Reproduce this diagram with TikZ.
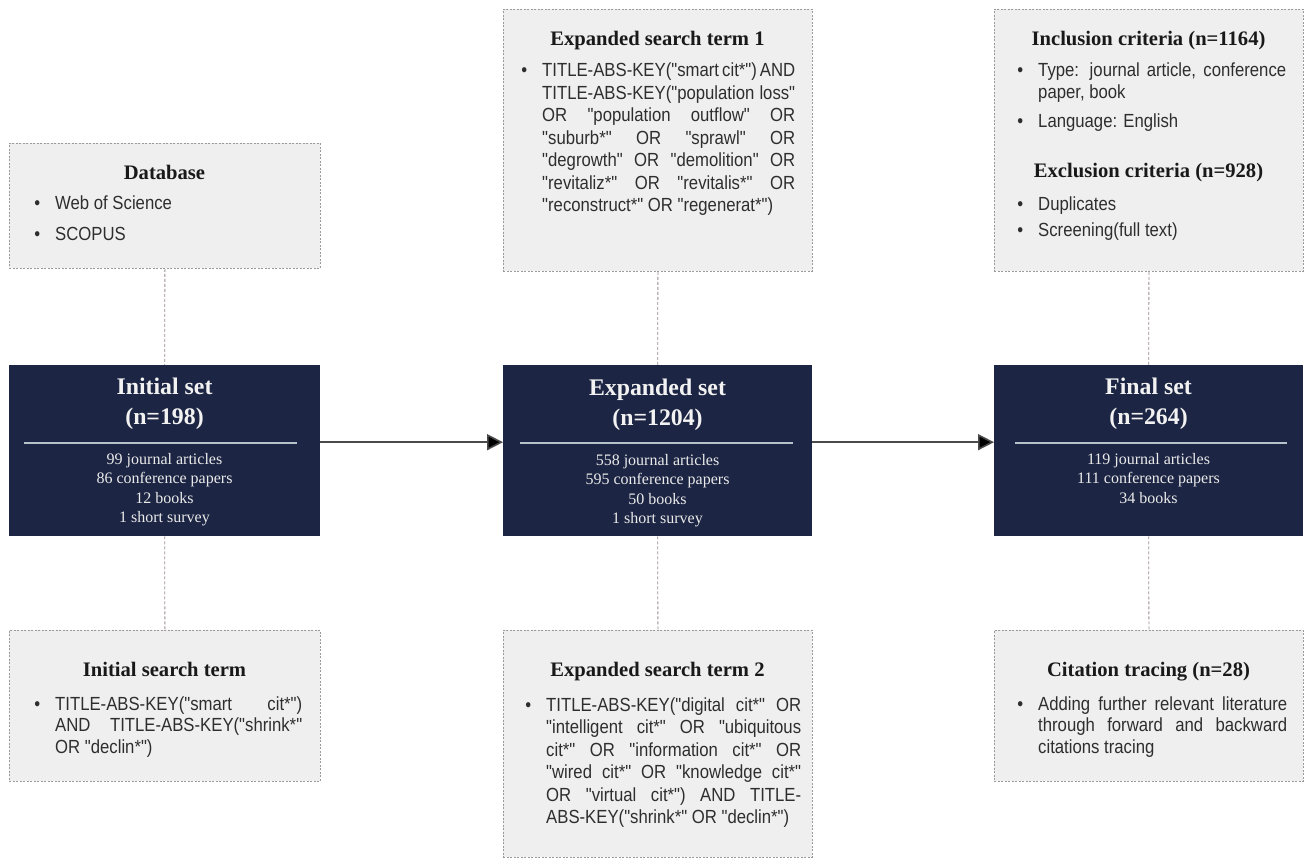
\documentclass[tikz,border=0pt]{standalone}
\usepackage{fontspec}
\setmainfont{Liberation Serif}
\newfontfamily\bodyfont[FakeStretch=0.88]{Liberation Sans}
\usetikzlibrary{arrows.meta,calc}
\definecolor{navy}{HTML}{1C2543}
\definecolor{boxgray}{HTML}{EFEFEF}
\definecolor{bordergray}{HTML}{9A9A9A}
\definecolor{conngray}{HTML}{9A8C8C}
\definecolor{bodygray}{HTML}{2E2E2E}
\definecolor{rulegray}{HTML}{B4C3C9}
\definecolor{arrowgray}{HTML}{4A4A4A}
\newlength\tw
\newcommand\cstack[2]{\vtop{\baselineskip=#1\relax\halign{\hfil##\hfil\cr#2\crcr}}}
\newcommand\glist[3]{\vtop{\bodyfont\fontsize{19}{#2}\selectfont\setlength\tw{#1}#3}}
\newcommand\JL[1]{\hbox to\tw{#1}}
\newcommand\LL[1]{\hbox to\tw{#1\hfil}}
\newcommand\BJ[1]{\hbox to\tw{\llap{\textbullet\hskip15pt}#1}}
\newcommand\BL[1]{\hbox to\tw{\llap{\textbullet\hskip15pt}#1\hfil}}
\tikzset{
  gbox/.style={draw=bordergray, dash pattern=on 2pt off 1.5pt, line width=0.8pt, fill=boxgray, inner sep=0, anchor=north west},
  dbox/.style={fill=navy, inner sep=0, anchor=north west},
  gtitle/.style={anchor=base, inner sep=0, font=\fontsize{20.6}{24}\selectfont\bfseries, text=black!90},
  dtitle/.style={anchor=base, inner sep=0, font=\fontsize{23.8}{30}\selectfont\bfseries, text=white!95!black},
  dbody/.style={anchor=base, inner sep=0, font=\fontsize{16}{19.5}\selectfont, text=white!92!black},
  glistn/.style={anchor=base west, inner sep=0, text=bodygray},
  vconn/.style={draw=conngray, line width=0.8pt, dash pattern=on 3pt off 2pt},
  harrow/.style={draw=arrowgray, line width=1.6pt, -{Triangle[length=16pt,width=16pt,fill=black]}},
  drule/.style={draw=rulegray, line width=1.8pt}
}
\begin{document}
\begin{tikzpicture}[x=1pt,y=-1pt]
\useasboundingbox (0,0) rectangle (1305,858);
\fill[white] (0,0) rectangle (1305,858);
% boxes
\node[gbox, minimum width=311pt, minimum height=125pt] (db) at (9,143) {};
\node[dbox, minimum width=311pt, minimum height=171pt] (init) at (9,365) {};
\node[gbox, minimum width=311pt, minimum height=151pt] (ist) at (9,630) {};
\node[gbox, minimum width=309pt, minimum height=262pt] (es1) at (503,9) {};
\node[dbox, minimum width=309pt, minimum height=171pt] (exp) at (503,365) {};
\node[gbox, minimum width=309pt, minimum height=227pt] (es2) at (503,630) {};
\node[gbox, minimum width=309pt, minimum height=262pt] (inc) at (994,9) {};
\node[dbox, minimum width=309pt, minimum height=171pt] (fin) at (994,365) {};
\node[gbox, minimum width=309pt, minimum height=151pt] (cit) at (994,630) {};
% connectors
\draw[vconn] (db.south) -- (init.north);
\draw[vconn] (init.south) -- (ist.north);
\draw[vconn] (es1.south) -- (exp.north);
\draw[vconn] (exp.south) -- (es2.north);
\draw[vconn] (inc.south) -- (fin.north);
\draw[vconn] (fin.south) -- (cit.north);
\draw[harrow] ([yshift=8.5pt]init.east) -- ([yshift=8.5pt]exp.west);
\draw[harrow] ([yshift=8.5pt]exp.east) -- ([yshift=8.5pt]fin.west);
% left column
\node[gtitle] (dbT) at (164.5,180) {Database};
\node[glistn] (dbL) at (55,210) {\glist{247pt}{22}{\BL{Web of Science}\vskip9pt\BL{SCOPUS}}};
\node[dtitle] (initT) at (164.5,394) {\cstack{30pt}{Initial set\cr(n=198)}};
\draw[drule] (24,443) -- (297,443);
\node[dbody] (initB) at (164.5,464) {\cstack{19.6pt}{99 journal articles\cr 86 conference papers\cr 12 books\cr 1 short survey}};
\node[gtitle] (istT) at (164.5,676) {Initial search term};
\node[glistn] (istL) at (55,710) {\glist{247pt}{21.5}{%
\BJ{TITLE-ABS-KEY("smart cit*")}
\JL{AND TITLE-ABS-KEY("shrink*"}
\LL{OR "declin*")}}};
% middle column
\node[gtitle] (es1T) at (657.5,46) {Expanded search term 1};
\node[glistn] (es1L) at (542,77) {\glist{253pt}{22.5}{%
\BJ{TITLE-ABS-KEY("smart cit*") AND}
\JL{TITLE-ABS-KEY("population loss"}
\JL{OR "population outflow" OR}
\JL{"suburb*" OR "sprawl" OR}
\JL{"degrowth" OR "demolition" OR}
\JL{"revitaliz*" OR "revitalis*" OR}
\LL{"reconstruct*" OR "regenerat*")}}};
\node[dtitle] (expT) at (657.5,395) {\cstack{30pt}{Expanded set\cr(n=1204)}};
\draw[drule] (520,443) -- (793,443);
\node[dbody] (expB) at (657.5,465) {\cstack{19.6pt}{558 journal articles\cr 595 conference papers\cr 50 books\cr 1 short survey}};
\node[gtitle] (es2T) at (657.5,676) {Expanded search term 2};
\node[glistn] (es2L) at (546,711) {\glist{255pt}{22.5}{%
\BJ{TITLE-ABS-KEY("digital cit*" OR}
\JL{"intelligent cit*" OR "ubiquitous}
\JL{cit*" OR "information cit*" OR}
\JL{"wired cit*" OR "knowledge cit*"}
\JL{OR "virtual cit*") AND TITLE-}
\LL{ABS-KEY("shrink*" OR "declin*")}}};
% right column
\node[gtitle] (incT) at (1148.5,46) {Inclusion criteria (n=1164)};
\node[glistn] (incL) at (1038,77) {\glist{248pt}{22}{%
\BJ{Type: journal article, conference}
\LL{paper, book}
\vskip7pt
\BL{Language: English}}};
\node[gtitle] (excT) at (1148.5,178) {Exclusion criteria (n=928)};
\node[glistn] (excL) at (1038,211) {\glist{248pt}{22}{%
\BL{Duplicates}
\vskip4pt
\BL{Screening(full text)}}};
\node[dtitle] (finT) at (1148.5,394) {\cstack{30pt}{Final set\cr(n=264)}};
\draw[drule] (1015,443) -- (1287,443);
\node[dbody] (finB) at (1148.5,464) {\cstack{19.6pt}{119 journal articles\cr 111 conference papers\cr 34 books}};
\node[gtitle] (citT) at (1148.5,676) {Citation tracing (n=28)};
\node[glistn] (citL) at (1038,710) {\glist{249pt}{21.5}{%
\BJ{Adding further relevant literature}
\JL{through forward and backward}
\LL{citations tracing}}};
\end{tikzpicture}
\end{document}
